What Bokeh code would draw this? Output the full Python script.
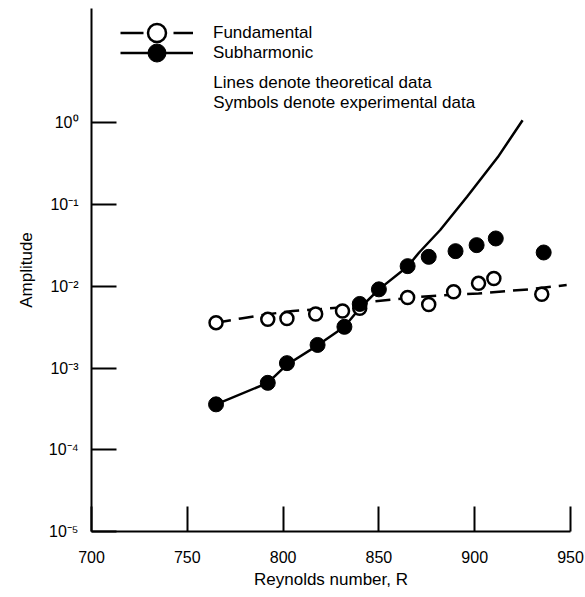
from bokeh.plotting import figure
from bokeh.models import (FixedTicker, CustomJSTickFormatter, Legend, LegendItem, Label, Title)
from bokeh.embed import file_html
from bokeh.resources import INLINE

# ---- data ----
exp_R_fund = [765, 792, 802, 817, 831, 840, 865, 876, 889, 902, 910, 935]
exp_fund = [3.6e-3, 3.95e-3, 4.05e-3, 4.6e-3, 5.0e-3, 5.4e-3, 7.3e-3, 6.0e-3, 8.6e-3, 1.09e-2, 1.25e-2, 8.0e-3]

exp_R_sub = [765, 792, 802, 818, 832, 840, 850, 865, 876, 890, 901, 911, 936]
exp_sub = [3.6e-4, 6.6e-4, 1.15e-3, 1.92e-3, 3.2e-3, 6.1e-3, 9.2e-3, 1.77e-2, 2.3e-2, 2.7e-2, 3.2e-2, 3.86e-2, 2.6e-2]

theory_R_fund = [765, 778, 790, 805, 830, 846, 876, 902, 928, 948]
theory_fund = [3.6e-3, 4.05e-3, 4.5e-3, 5.0e-3, 5.5e-3, 6.5e-3, 7.6e-3, 8.2e-3, 9.2e-3, 1.04e-2]

theory_R_sub = [765, 792, 802, 818, 832, 840, 850, 865, 871, 882, 896, 912, 925]
theory_sub = [3.6e-4, 6.6e-4, 1.1e-3, 1.9e-3, 3.2e-3, 5.4e-3, 9.2e-3, 1.75e-2, 2.6e-2, 4.9e-2, 1.25e-1, 3.8e-1, 1.08]

x_ticks = [700, 750, 800, 850, 900, 950]
y_ticks = [1e-5, 1e-4, 1e-3, 1e-2, 1e-1, 1e0]

series_labels = ["Fundamental", "Subharmonic"]
note_lines = ["Lines denote theoretical data", "Symbols denote experimental data"]
x_label = "Reynolds number, R"
y_label = "Amplitude"

FONT = "Liberation Sans"

p = figure(width=585, height=597, y_axis_type="log",
           x_range=(700, 950), y_range=(1e-5, 25.2),
           output_backend="svg", toolbar_location=None,
           min_border_left=91, min_border_right=15,
           min_border_top=8, min_border_bottom=66)
p.outline_line_color = None
p.grid.visible = False
p.background_fill_color = "white"

for ax in (p.xaxis[0], p.yaxis[0]):
    ax.axis_line_width = 2
    ax.axis_line_color = "black"
    ax.major_tick_line_width = 2
    ax.major_tick_line_color = "black"
    ax.major_tick_in = 25
    ax.major_tick_out = 0
    ax.minor_tick_in = 0
    ax.minor_tick_out = 0
    ax.major_label_text_font = FONT
    ax.major_label_text_font_size = "16px"
    ax.major_label_text_color = "black"
    ax.axis_label_text_font = FONT
    ax.axis_label_text_font_size = "17px"
    ax.axis_label_text_font_style = "normal"
    ax.axis_label_text_color = "black"

p.xaxis.ticker = FixedTicker(ticks=x_ticks)
p.yaxis.ticker = FixedTicker(ticks=y_ticks)
p.yaxis.axis_label = y_label
p.xaxis.major_label_standoff = 19
p.yaxis.major_label_standoff = 13
p.yaxis.axis_label_standoff = 10

p.yaxis.formatter = CustomJSTickFormatter(code="""
const sup = {'-': '\u207b', '0': '\u2070', '1': '\u00b9', '2': '\u00b2', '3': '\u00b3',
             '4': '\u2074', '5': '\u2075', '6': '\u2076', '7': '\u2077', '8': '\u2078', '9': '\u2079'};
const e = Math.round(Math.log10(tick));
return '10' + String(e).split('').map(c => sup[c]).join('');
""")

# x-axis title, as a title panel below the axis
p.add_layout(Title(text=x_label, align="center", text_font=FONT, text_font_size="17px",
                   text_font_style="normal", text_color="black", standoff=4), "below")

# theoretical lines
fund_line = p.line(theory_R_fund, theory_fund, line_color="black", line_width=2.5, line_dash="15 8")
sub_line = p.line(theory_R_sub, theory_sub, line_color="black", line_width=2.5)

# experimental symbols
fund_pts = p.scatter(exp_R_fund, exp_fund, marker="circle", size=13, line_color="black",
                     line_width=2.5, fill_color="white")
sub_pts = p.scatter(exp_R_sub, exp_sub, marker="circle", size=15, line_color="black",
                    line_width=1, fill_color="black")

# renderer used only for the legend's dashed sample (no visible data)
legend_dash = p.line([float("nan")], [float("nan")], line_color="black", line_width=2.5,
                     line_dash="23 30")

common = dict(glyph_width=73, glyph_height=45, label_height=45, label_standoff=20,
              padding=0, margin=0, border_line_color=None, background_fill_alpha=0,
              label_text_font=FONT, label_text_font_size="17px", label_text_color="black")

leg1 = Legend(items=[LegendItem(label=series_labels[0], renderers=[legend_dash, fund_pts])],
              location=(29, 476), **common)
leg2 = Legend(items=[LegendItem(label=series_labels[1], renderers=[sub_line, sub_pts])],
              location=(29, 456), **common)
p.add_layout(leg1)
p.add_layout(leg2)

p.add_layout(Label(x=763.6, y=3.15, text=note_lines[0], text_font=FONT, text_font_size="17px",
                   text_baseline="middle", text_color="black"))
p.add_layout(Label(x=763.6, y=1.79, text=note_lines[1], text_font=FONT, text_font_size="17px",
                   text_baseline="middle", text_color="black"))

open("out.html", "w").write(file_html(p, INLINE))
